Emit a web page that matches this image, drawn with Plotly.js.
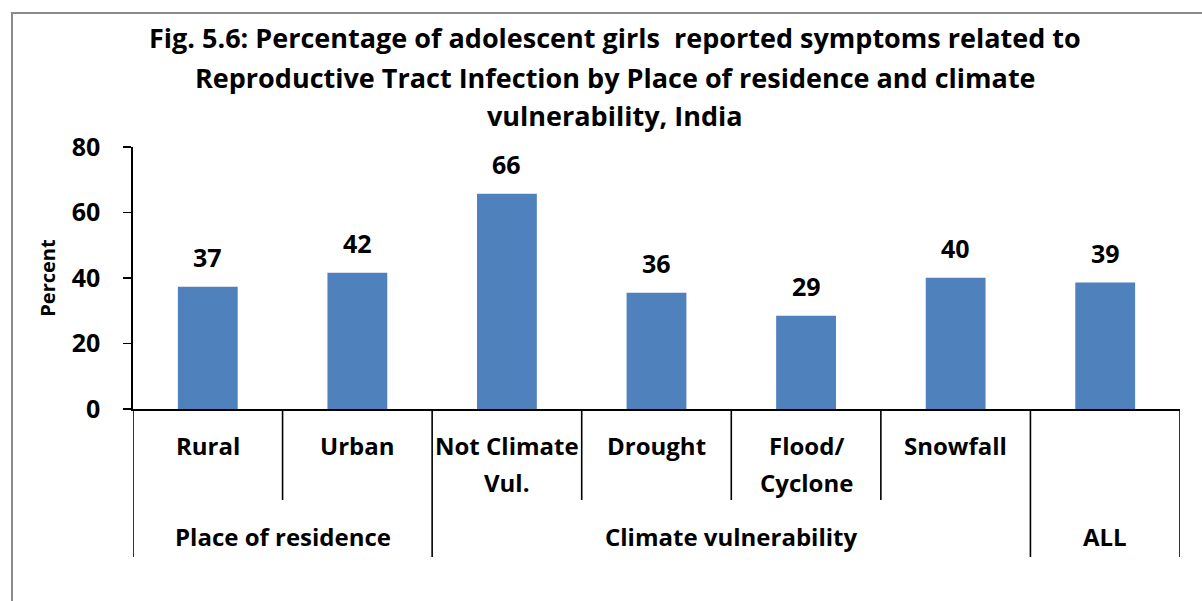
<!DOCTYPE html>
<html>
<head>
<meta charset="utf-8">
<script src="https://cdn.plot.ly/plotly-3.0.1.min.js"></script>
<style>html,body{margin:0;padding:0;background:#fff;}#chart{width:1202px;height:601px;}</style>
</head>
<body>
<div id="chart"></div>
<script>
// ---- data ----
const titleLines = [
  "Fig. 5.6: Percentage of adolescent girls  reported symptoms related to",
  "Reproductive Tract Infection by Place of residence and climate",
  "vulnerability, India"
];
const categories = ["Rural", "Urban", "Not Climate Vul.", "Drought", "Flood/Cyclone", "Snowfall", "ALL"];
const subLabels = [["Rural"], ["Urban"], ["Not Climate", "Vul."], ["Drought"], ["Flood/", "Cyclone"], ["Snowfall"], []];
const groups = ["Place of residence", "Place of residence", "Climate vulnerability", "Climate vulnerability", "Climate vulnerability", "Climate vulnerability", "ALL"];
const values = [37.3, 41.6, 65.7, 35.5, 28.5, 40.1, 38.6];
const valueLabels = ["37", "42", "66", "36", "29", "40", "39"];
const yTicks = [0, 20, 40, 60, 80];
const yTitle = "Percent";

// ---- layout helpers ----
const W = 1202, H = 601;
const M = {l: 133, r: 22, t: 147, b: 192};
const plotH = H - M.t - M.b, plotW = W - M.l - M.r;
const py = p => (H - M.b - p) / plotH;   // pixel y -> paper y
const px = p => (p - M.l) / plotW;       // pixel x -> paper x

const FONT = "'Open Sans', sans-serif";
const black = "#000000";

const annotations = [];
const shapes = [];

// title lines
const titleY = [37, 77, 115];
titleLines.forEach((t, i) => {
  annotations.push({
    text: t, xref: "paper", yref: "paper", x: px(615), y: py(titleY[i]),
    xanchor: "center", yanchor: "middle", showarrow: false,
    font: {family: FONT, size: 27, weight: 700, color: black}
  });
});

// value labels
categories.forEach((c, i) => {
  annotations.push({
    text: valueLabels[i], x: i, y: values[i], xref: "x", yref: "y",
    xanchor: "center", yanchor: "middle", yshift: 30, showarrow: false,
    font: {family: FONT, size: 25, weight: 700, color: black}
  });
});

// first-level category labels
const lineY = [445, 482];
subLabels.forEach((lines, i) => {
  lines.forEach((ln, j) => {
    annotations.push({
      text: ln, x: i, y: py(lineY[j]), xref: "x", yref: "paper",
      xanchor: "center", yanchor: "middle", showarrow: false,
      font: {family: FONT, size: 24, weight: 700, color: black}
    });
  });
});

// group labels (contiguous runs)
let start = 0;
for (let i = 1; i <= groups.length; i++) {
  if (i === groups.length || groups[i] !== groups[start]) {
    annotations.push({
      text: groups[start], x: (start + i - 1) / 2, y: py(536), xref: "x", yref: "paper",
      xanchor: "center", yanchor: "middle", showarrow: false,
      font: {family: FONT, size: 24, weight: 700, color: black}
    });
    start = i;
  }
}

// separators under the axis
for (let b = -0.5; b <= categories.length - 0.5; b += 1) {
  const left = Math.floor(b), right = Math.ceil(b);
  const full = left < 0 || right >= categories.length || groups[left] !== groups[right];
  shapes.push({
    type: "line", xref: "x", yref: "paper", x0: b, x1: b,
    y0: 0, y1: py(full ? 557 : 500),
    line: {color: black, width: 1.6}
  });
}

// outer chart border
shapes.push({
  type: "rect", xref: "paper", yref: "paper",
  x0: px(12), x1: px(1215), y0: py(13), y1: py(620),
  line: {color: "#8c8c8c", width: 2}, fillcolor: "rgba(0,0,0,0)", layer: "below"
});

const trace = {
  type: "bar", x: categories, y: values,
  marker: {color: "#4F81BD"}, hoverinfo: "x+y"
};

const layout = {
  width: W, height: H, margin: M,
  paper_bgcolor: "#ffffff", plot_bgcolor: "#ffffff",
  showlegend: false, bargap: 0.6,
  xaxis: {
    type: "category", range: [-0.5, categories.length - 0.5],
    showticklabels: false, ticks: "", showgrid: false, zeroline: false,
    showline: true, linecolor: black, linewidth: 1.6, fixedrange: true
  },
  yaxis: {
    range: [0, 80], tickvals: yTicks, ticktext: yTicks.map(String),
    ticks: "outside", ticklen: 8, tickwidth: 1.6, tickcolor: black,
    showline: true, linecolor: black, linewidth: 1.6,
    showgrid: false, zeroline: false, ticklabelstandoff: 18,
    tickfont: {family: FONT, size: 25, weight: 700, color: black},
    title: {text: yTitle, standoff: 11, font: {family: FONT, size: 20, weight: 700, color: black}},
    fixedrange: true
  },
  annotations: annotations,
  shapes: shapes
};

Plotly.newPlot("chart", [trace], layout, {displayModeBar: false, staticPlot: true});
</script>
</body>
</html>
